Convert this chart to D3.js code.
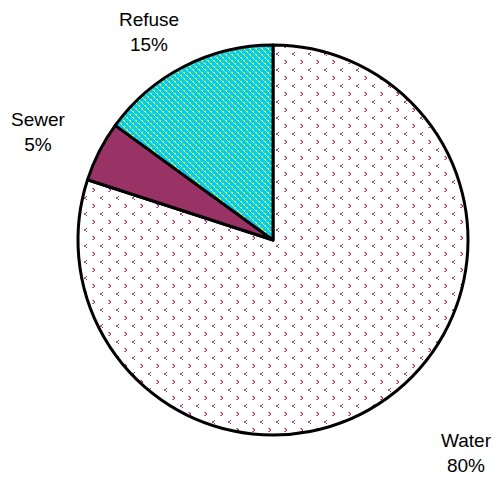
<!DOCTYPE html>
<html>
<head>
<meta charset="utf-8">
<script src="https://cdn.jsdelivr.net/npm/d3@7"></script>
<style>
  html, body { margin: 0; padding: 0; background: #fff; }
  svg { display: block; }
</style>
</head>
<body>
<svg id="chart" width="500" height="477"></svg>
<script>
// Share of spending by service
const categories = ["Water", "Sewer", "Refuse"];
const values = [80, 5, 15];
const percentLabels = ["80%", "5%", "15%"];

const width = 500, height = 477;
const cx = 273, cy = 240, radius = 195;

const svg = d3.select("#chart");
const defs = svg.append("defs");

// Water: white with small plum chevron marks
const pw = defs.append("pattern")
  .attr("id", "pat-water").attr("patternUnits", "userSpaceOnUse")
  .attr("width", 16).attr("height", 16);
pw.append("rect").attr("width", 16).attr("height", 16).attr("fill", "#fff");
const dark = "#993366", light = "#c77fa6";
const px = [
  // "<" mark
  [2, 0, dark], [1, 1, dark], [0, 1, light], [0, 2, dark], [1, 2, light], [2, 3, dark],
  // ">" mark
  [8, 8, light], [9, 8, dark], [9, 9, light], [10, 9, dark], [10, 10, dark],
  [9, 11, dark], [8, 11, light], [8, 12, dark], [9, 12, light]
];
px.forEach(([x, y, c]) => pw.append("rect").attr("x", x + 3).attr("y", y + 4)
  .attr("width", 1).attr("height", 1).attr("fill", c));

// Refuse: cyan with dotted yellow diagonal stripes
const pr = defs.append("pattern")
  .attr("id", "pat-refuse").attr("patternUnits", "userSpaceOnUse")
  .attr("width", 6).attr("height", 6);
pr.append("rect").attr("width", 6).attr("height", 6).attr("fill", "#00ccff");
[[0, 0], [1, 1], [2, 2], [3, 3], [4, 4], [5, 5]].forEach(([x, y], i) =>
  pr.append("rect").attr("x", x).attr("y", y).attr("width", 1).attr("height", 1)
    .attr("fill", i % 3 === 2 ? "#9fe86a" : "#ffff00"));
[[1, 0], [4, 3]].forEach(([x, y]) =>
  pr.append("rect").attr("x", x).attr("y", y).attr("width", 1).attr("height", 1).attr("fill", "#ccf040"));

const fills = { Water: "url(#pat-water)", Sewer: "#993366", Refuse: "url(#pat-refuse)" };

const data = categories.map((c, i) => ({ category: c, value: values[i], label: percentLabels[i] }));

const pie = d3.pie().value(d => d.value).sort(null);
const arcs = pie(data);
const arc = d3.arc().innerRadius(0).outerRadius(radius);

const g = svg.append("g").attr("transform", `translate(${cx},${cy})`);
g.selectAll("path.slice")
  .data(arcs)
  .join("path")
  .attr("class", "slice")
  .attr("d", arc)
  .attr("fill", d => fills[d.data.category])
  .attr("stroke", "#000")
  .attr("stroke-width", 3)
  .attr("stroke-linejoin", "round");

// Label offsets from the pie centre, one per slice
const labelOffsets = { Water: [193, 213], Sewer: [-235, -108], Refuse: [-124, -208] };
const fontSize = 19, lineGap = 25;
const lbl = svg.append("g").attr("transform", `translate(${cx},${cy})`)
  .attr("font-family", "Liberation Sans, Arial, sans-serif")
  .attr("font-size", fontSize).attr("fill", "#000").attr("text-anchor", "middle");

arcs.forEach(d => {
  const [x, y] = labelOffsets[d.data.category];
  const t = lbl.append("text").attr("x", x).attr("y", y - lineGap / 2 + fontSize * 0.35);
  t.append("tspan").attr("x", x).text(d.data.category);
  t.append("tspan").attr("x", x).attr("dy", lineGap).text(d.data.label);
});
</script>
</body>
</html>
